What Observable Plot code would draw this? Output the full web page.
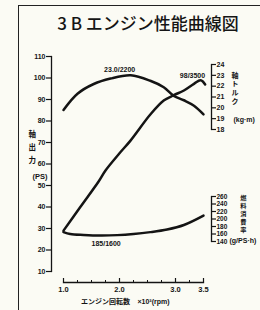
<!DOCTYPE html>
<html><head><meta charset="utf-8">
<script src="https://cdn.jsdelivr.net/npm/d3@7"></script>
<script src="https://cdn.jsdelivr.net/npm/@observablehq/plot@0.6"></script>
<style>
html,body{margin:0;padding:0;background:#fbfbf4;}
#chart{position:relative;width:260px;height:310px;overflow:hidden;background:#fbfbf4;}
#chart svg{position:absolute;left:0;top:0;}
#border{position:absolute;left:18px;top:5px;width:260px;height:320px;border-left:1.5px solid #222;border-top:1.5px solid #222;}
#title{position:absolute;top:10px;left:48px;width:200px;text-align:center;font-family:"Noto Sans CJK JP",sans-serif;font-size:17px;font-weight:500;color:#151515;white-space:nowrap;}
</style></head>
<body>
<div id="chart"><div id="border"></div><div id="title">3 B エンジン性能曲線図</div></div>
<script>
// ---- data ----
const powerRpm = [1000, 1300, 1630, 1750, 2000, 2200, 2550, 2790, 2970, 3150, 3330, 3450, 3530];
const powerPS  = [29, 40, 52, 57, 65, 71, 83, 89.5, 92, 94.2, 97.3, 99, 97];
const torqueRpm = [1000, 1250, 1540, 1840, 2200, 2550, 2790, 2970, 3150, 3330, 3500];
const torqueKgm = [19.8, 21.3, 22.2, 22.7, 23.0, 22.5, 21.9, 21.1, 20.7, 20.2, 19.4];
const fuelRpm = [1000, 1120, 1360, 1660, 1960, 2250, 2550, 2850, 3150, 3500];
const fuelGps = [165, 160, 157.5, 156, 157, 160, 165, 172, 184, 209];
const rpmTicks = [1000, 2000, 3000, 3500];
const rpmMinor = [1250, 1500, 1750, 2250, 2500, 2750, 3250];
const psTicks = [10, 20, 30, 40, 50, 60, 70, 80, 90, 100, 110];
const torqueTicks = [18, 19, 20, 21, 22, 23, 24];
const fuelTicks = [140, 160, 180, 200, 220, 240, 260];
const powerNote = [{rpm: 3500, v: 98, label: "98/3500"}];
const torqueNote = [{rpm: 2200, v: 23.0, label: "23.0/2200"}];
const fuelNote = [{rpm: 1600, v: 156, label: "185/1600"}];
const leftTitle = "軸\n出\n力", leftUnit = "(PS)";
const torqueTitle = "軸\nト\nル\nク", torqueUnit = "(kg·m)";
const fuelTitle = "燃\n料\n消\n費\n率", fuelUnit = "(g/PS·h)";
const xTitle1 = "エンジン回転数", xTitle2 = "×10³(rpm)";

const power = powerRpm.map((r, i) => ({rpm: r, v: powerPS[i]}));
const torque = torqueRpm.map((r, i) => ({rpm: r, v: torqueKgm[i]}));
const fuel = fuelRpm.map((r, i) => ({rpm: r, v: fuelGps[i]}));

const ink = "#141414";
const common = {
  width: 260, height: 310,
  style: {background: "transparent", overflow: "visible", fontFamily: "'Liberation Sans', sans-serif", fontSize: "7px", fontWeight: "bold", color: ink}
};
const xs = {domain: [1000, 3500], range: [63, 203], axis: null};
const lineOpts = {x: "rpm", y: "v", curve: "catmull-rom", stroke: ink, strokeWidth: 2.5, strokeLinecap: "round"};
const cjk = "'Noto Sans CJK JP', sans-serif";

const p1 = Plot.plot({
  ...common, marginLeft: 51, marginRight: 57, marginTop: 56, marginBottom: 39,
  x: xs, y: {domain: [10, 110]},
  marks: [
    Plot.frame({anchor: "left", stroke: ink, strokeWidth: 1.3}),
    Plot.axisY(psTicks, {anchor: "left", tickSize: 5, tickPadding: 1, label: null, strokeWidth: 1.2, fill: ink}),
    Plot.line(power, lineOpts),
    Plot.text(powerNote, {x: "rpm", y: "v", text: "label", dx: -11, dy: -7, fontSize: 7, fill: ink}),
    Plot.text([leftTitle], {text: d => d, frameAnchor: "left", dx: -23, dy: -18, fontFamily: cjk, fontSize: 7.5, lineHeight: 1.7, fill: ink}),
    Plot.text([leftUnit], {text: d => d, frameAnchor: "left", dx: -19, dy: 12.5, fontSize: 7.5, fill: ink})
  ]
});

const p2 = Plot.plot({
  ...common, marginLeft: 63, marginRight: 49, marginTop: 64, marginBottom: 181,
  x: xs, y: {domain: [18, 24]},
  marks: [
    Plot.frame({anchor: "right", stroke: ink, strokeWidth: 1.3}),
    Plot.axisY(torqueTicks, {anchor: "right", tickSize: 4, tickPadding: 1, label: null, strokeWidth: 1.2, fill: ink}),
    Plot.line(torque, lineOpts),
    Plot.text(torqueNote, {x: "rpm", y: "v", text: "label", dx: -11, dy: -6, fontSize: 7, fill: ink}),
    Plot.text([torqueTitle], {text: d => d, frameAnchor: "right", dx: 27, dy: -9, fontFamily: cjk, fontSize: 7, lineHeight: 1.25, fill: ink}),
    Plot.text([torqueUnit], {text: d => d, frameAnchor: "right", dx: 22, dy: 22.5, textAnchor: "start", fontSize: 7, fill: ink})
  ]
});

const p3 = Plot.plot({
  ...common, marginLeft: 63, marginRight: 49, marginTop: 196, marginBottom: 69,
  x: xs, y: {domain: [140, 260]},
  marks: [
    Plot.frame({anchor: "right", stroke: ink, strokeWidth: 1.3}),
    Plot.axisY(fuelTicks, {anchor: "right", tickSize: 4, tickPadding: 1, label: null, strokeWidth: 1.2, fontSize: 6.5, fill: ink}),
    Plot.line(fuel, lineOpts),
    Plot.text(fuelNote, {x: "rpm", y: "v", text: "label", dx: 9, dy: 8, fontSize: 7, fill: ink}),
    Plot.text([fuelTitle], {text: d => d, frameAnchor: "right", dx: 35, dy: -5.5, fontFamily: cjk, fontSize: 6.2, lineHeight: 1.3, fill: ink}),
    Plot.text([fuelUnit], {text: d => d, frameAnchor: "bottom-right", dx: 18, dy: 1, textAnchor: "start", fontSize: 7, fill: ink})
  ]
});

const p4 = Plot.plot({
  ...common, marginLeft: 63, marginRight: 57, marginTop: 278, marginBottom: 28,
  x: xs,
  marks: [
    Plot.frame({anchor: "bottom", stroke: ink, strokeWidth: 1.3}),
    Plot.tickX(rpmTicks, {x: d => d, stroke: ink, strokeWidth: 1.2}),
    Plot.tickX(rpmMinor, {x: d => d, stroke: ink, strokeWidth: 1, insetTop: 2}),
    Plot.axisX(rpmTicks, {anchor: "bottom", tickSize: 0, tickPadding: 4, tickFormat: d => (d / 1000).toFixed(1), label: null, fontSize: 7.5, fill: ink}),
    Plot.text([xTitle1], {text: d => d, frameAnchor: "bottom", dx: -28, dy: 21, fontFamily: cjk, fontSize: 7, fill: ink}),
    Plot.text([xTitle2], {text: d => d, frameAnchor: "bottom", dx: 20, dy: 21, fontSize: 7, fill: ink})
  ]
});

const chart = document.getElementById("chart");
[p1, p2, p3, p4].forEach(p => chart.appendChild(p));
</script>
</body></html>
